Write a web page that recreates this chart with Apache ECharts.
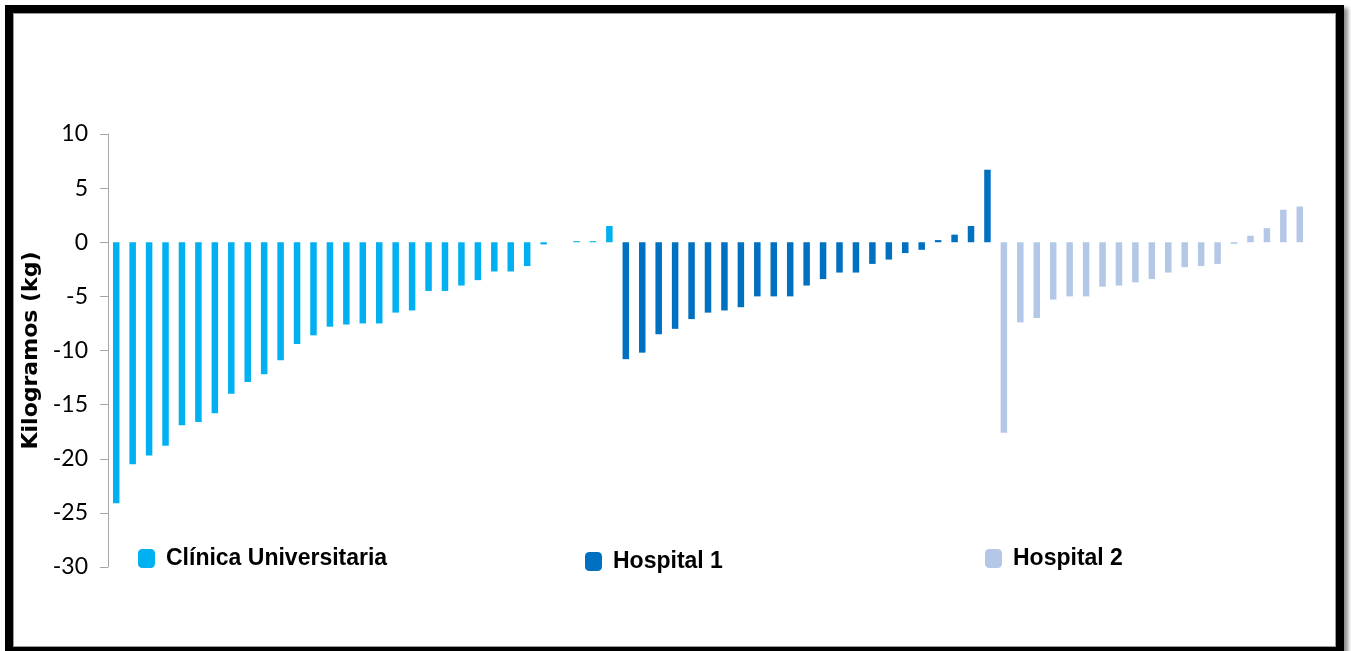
<!DOCTYPE html>
<html>
<head>
<meta charset="utf-8">
<title>Kilogramos por paciente</title>
<script src="https://cdn.jsdelivr.net/npm/echarts@6/dist/echarts.min.js"></script>
<style>
  html, body { margin: 0; padding: 0; background: #ffffff; overflow: hidden; }
  #chart { position: absolute; left: 0; top: 0; width: 1351px; height: 651px; }
  #frame {
    position: absolute; left: 5px; top: 5px; width: 1339px; height: 650px;
    box-sizing: border-box; border: 8px solid #000000;
    box-shadow: 4px 3px 4px rgba(0,0,0,0.45), inset 0 0 0 1px #9c9c9c;
    pointer-events: none;
  }
</style>
</head>
<body>
<div id="chart"></div>
<div id="frame"></div>
<script>
// Weight change per patient (kg), sorted within each centre
const clinica = [-24.1, -20.5, -19.7, -18.8, -16.9, -16.6, -15.8, -14.0, -12.9, -12.2,
                 -10.9, -9.4, -8.6, -7.8, -7.6, -7.5, -7.5, -6.5, -6.3, -4.5,
                 -4.5, -4.0, -3.5, -2.7, -2.7, -2.2, -0.2, 0, 0.1, 0.1, 1.5];
const hospital1 = [-10.8, -10.2, -8.5, -8.0, -7.1, -6.5, -6.3, -6.0, -5.0, -5.0,
                   -5.0, -4.0, -3.4, -2.8, -2.8, -2.0, -1.6, -1.0, -0.7, 0.2,
                   0.7, 1.5, 6.7];
const hospital2 = [-17.6, -7.4, -7.0, -5.3, -5.0, -5.0, -4.1, -4.0, -3.7, -3.4,
                   -2.8, -2.3, -2.2, -2.0, -0.15, 0.6, 1.3, 3.0, 3.3];
const seriesNames = ['Clínica Universitaria', 'Hospital 1', 'Hospital 2'];
const seriesColors = ['#00b0f0', '#0070c0', '#b4c7e7'];
const yTicks = { min: -30, max: 10, step: 5 };

// One category slot per patient, centres placed one after another
const groups = [clinica, hospital1, hospital2];
const total = groups.reduce((n, g) => n + g.length, 0);
const categories = [];
for (let i = 1; i <= total; i++) categories.push(String(i));

let offset = 0;
const series = groups.map((vals, gi) => {
  const data = new Array(total).fill(null);
  vals.forEach((v, i) => { data[offset + i] = v; });
  offset += vals.length;
  return {
    name: seriesNames[gi],
    type: 'bar',
    data: data,
    barWidth: 6.5,
    barGap: '-100%',
    itemStyle: { color: seriesColors[gi] },
    emphasis: { disabled: true }
  };
});

const legendText = { color: '#000000', fontFamily: 'Liberation Sans, Arial, sans-serif',
                     fontWeight: 'bold', fontSize: 23, padding: [0, 0, 0, 6] };
const legendPos = [[133, 542], [580, 545], [980, 542]];

const chart = echarts.init(document.getElementById('chart'), null, { renderer: 'canvas' });
chart.setOption({
  backgroundColor: 'transparent',
  animation: false,
  color: seriesColors,
  grid: { left: 108, right: 43, top: 134, bottom: 84, containLabel: false },
  legend: seriesNames.map((n, i) => ({
    data: [n],
    left: legendPos[i][0],
    top: legendPos[i][1],
    icon: 'roundRect',
    itemWidth: 17,
    itemHeight: 19,
    selectedMode: false,
    textStyle: legendText
  })),
  xAxis: {
    type: 'category',
    data: categories,
    boundaryGap: true,
    axisLine: { show: false },
    axisTick: { show: false },
    axisLabel: { show: false },
    splitLine: { show: false }
  },
  yAxis: {
    type: 'value',
    min: yTicks.min,
    max: yTicks.max,
    interval: yTicks.step,
    name: 'Kilogramos (kg)',
    nameLocation: 'middle',
    nameGap: 64,
    nameTextStyle: { color: '#000000', fontFamily: 'DejaVu Sans', fontWeight: 'bold', fontSize: 22 },
    axisLine: { show: true, lineStyle: { color: '#a6a6a6', width: 1 } },
    axisTick: { show: true, length: 8, lineStyle: { color: '#a6a6a6' } },
    axisLabel: { color: '#000000', fontFamily: 'Lato', fontSize: 23, margin: 20 },
    splitLine: { show: false }
  },
  series: series
});
</script>
</body>
</html>
